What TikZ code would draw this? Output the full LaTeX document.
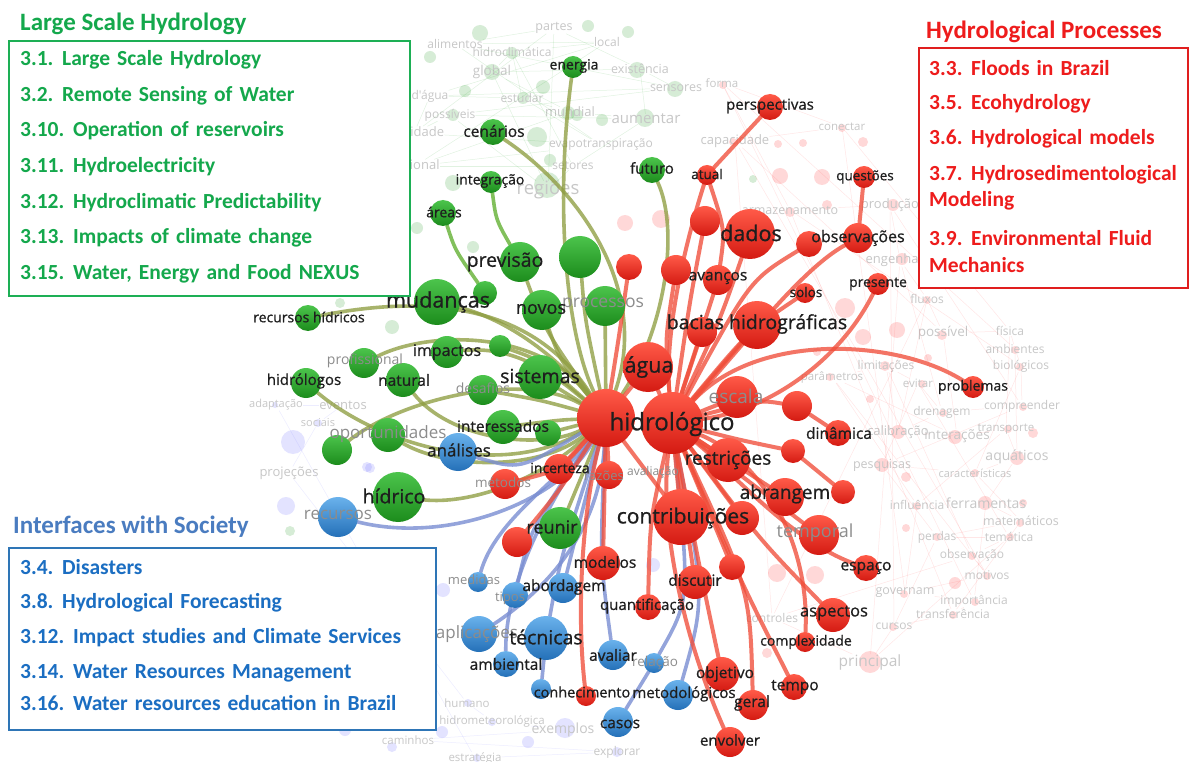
\documentclass[tikz,border=0pt]{standalone}
\usepackage{fontspec}
\setmainfont{Carlito}
\newfontfamily\labfont[FakeBold=0.8]{Open Sans}
\newfontfamily\palefont{Open Sans}
\pgfdeclarelayer{faint}
\pgfdeclarelayer{edges}
\pgfsetlayers{faint,edges,main}
\newcommand\legfont[1]{\bfseries\fontsize{#1}{#1}\selectfont\spaceskip=.33em\relax}

% sphere shades
\definecolor{rT}{HTML}{FF5A48}
\definecolor{rB}{HTML}{D41A12}
\definecolor{gT}{HTML}{4CC44C}
\definecolor{gB}{HTML}{1C8C1C}
\definecolor{bT}{HTML}{6AB2EC}
\definecolor{bB}{HTML}{2470B8}
% connector colours
\definecolor{rE}{HTML}{F04E3A}
\definecolor{oE}{HTML}{8F9E42}
\definecolor{gE}{HTML}{6DB540}
\definecolor{bE}{HTML}{7A8ED2}
% legend colours
\definecolor{gTxt}{HTML}{14A84C}
\definecolor{gBox}{HTML}{1DAF55}
\definecolor{rTxt}{HTML}{EE1C1C}
\definecolor{rBox}{HTML}{E01E1E}
\definecolor{bTxt}{HTML}{1B6EC2}
\definecolor{bTitle}{HTML}{4A7CC0}
\definecolor{bBox}{HTML}{2E75B6}
\definecolor{lblc}{HTML}{1E1E1E}

\tikzset{
  rn/.style={circle,inner sep=0pt,minimum size=#1,top color=rT,bottom color=rB,draw=none},
  gn/.style={circle,inner sep=0pt,minimum size=#1,top color=gT,bottom color=gB,draw=none},
  bn/.style={circle,inner sep=0pt,minimum size=#1,top color=bT,bottom color=bB,draw=none},
  lbl/.style={font=\labfont\fontsize{#1}{#1}\selectfont,text=lblc,inner sep=0pt},
  greylbl/.style={font=\palefont\fontsize{#1}{#1}\selectfont,text=black!45,inner sep=0pt},
  paletxt/.style={font=\palefont\fontsize{#1}{#1}\selectfont,text=black!22,inner sep=0pt},
  redge/.style={draw=rE,line width=4pt,opacity=.78,line cap=round},
  oedge/.style={draw=oE,line width=3.6pt,opacity=.78,line cap=round},
  gedge/.style={draw=gE,line width=3.6pt,opacity=.85,line cap=round},
  bedge/.style={draw=bE,line width=3.6pt,opacity=.8,line cap=round},
  fedge/.style={draw=#1,line width=.5pt,opacity=.12},
  legtxt/.style={font=\legfont{21.5},anchor=west,inner sep=0pt},
  legtitle/.style={font=\bfseries\fontsize{25}{25}\selectfont,anchor=west,inner sep=0pt},
  legbox/.style={draw=#1,line width=1.6pt,fill=white,anchor=north west,inner sep=0pt},
}

\begin{document}
\begin{tikzpicture}[x=1pt,y=-1pt]
\useasboundingbox (0,0) rectangle (1192,762);

% ---------- faint background map ----------
\begin{pgfonlayer}{faint}
\fill[white] (0,0) rectangle (1192,762);
% pale dots of the minor terms
\foreach \x/\y/\r in {480/33/8,588/26/6,628/32/6,430/57/6,465/91/6,543/87/7,492/72/8,453/115/6,602/120/6,645/118/9,637/70/8,675/89/8,523/98/6,568/113/7,512/53/6,537/137/10,547/185/13,453/183/8,417/228/6,577/115/6,550/160/6,473/247/6,340/303/5,392/327/7,753/179/4,290/531/5}
  \fill[green!55!black,opacity=.16] (\x,\y) circle (\r);
\foreach \x/\y/\r in {661/219/9,625/223/8,780/176/8,822/177/8,842/128/4,863/142/5,778/144/4,803/143/4,733/142/4,723/85/4,893/205/6,827/205/5,790/212/5,902/259/6,845/308/10,897/330/8,863/337/8,942/335/5,927/300/4,928/358/4,885/366/5,830/377/4,870/399/4,922/384/4,943/413/4,898/432/7,955/437/7,882/465/7,906/477/5,1015/350/4,1020/367/4,1023/407/4,1008/429/4,1033/433/5,1017/458/7,975/473/4,917/506/4,985/503/7,1023/503/4,1020/523/4,906/528/4,937/537/4,1010/537/4,972/556/4,987/576/4,955/583/6,904/594/4,975/602/4,953/615/4,893/627/4,870/662/11,815/575/9,777/573/9,767/653/5,817/352/4}
  \fill[red!75!white,opacity=.2] (\x,\y) circle (\r);
\foreach \x/\y/\r in {293/442/12,286/506/9,275/405/3,318/423/4,367/467/5,345/730/6,442/732/6,468/703/4,492/722/4,565/728/10,528/742/6,392/747/5,617/752/5,477/758/4,443/590/7,653/565/7,370/468/5}
  \fill[blue!60!white,opacity=.18] (\x,\y) circle (\r);

% pale words, right part of the map
\foreach [count=\i] \x/\y/\s/\w in {
  790/210/12.5/armazenamento, 890/205/13/produção, 900/260/13/engenharia,
  927/299/12/fluxos, 943/333/13.5/possível, 1010/331/12/física,
  1015/349/12/ambientes, 1021/366/12/biológicos, 1022/406/12/compreender,
  942/412/12/drenagem, 898/432/13/calibração, 957/436/13.5/interações,
  1006/429/11.5/transporte, 1017/457/14/aquáticos, 975/473/11/características,
  882/465/12.5/pesquisas, 918/383/11.5/evitar, 886/366/12/limitações,
  832/377/11.5/parâmetros, 917/505/12/influência, 986/503/14/ferramentas,
  1021/521/12.5/matemáticos, 937/537/12/perdas, 1009/537/12/temática,
  972/555/12/observação, 987/575/12/motivos, 905/593/12.5/governam,
  974/601/12/importância, 953/614/12/transferência, 894/626/12/cursos,
  870/662/15.5/principal, 772/618/12/controles, 735/141/13/capacidade,
  842/127/11.5/conectar, 722/83/11.5/forma}
  \node[paletxt=\s] (fr\i) at (\x,\y) {\w};
% pale words, upper and left part of the map
\foreach [count=\i] \x/\y/\s/\w in {
  554/28/12.5/partes, 455/44/12/alimentos, 607/42/12/local,
  512/52/12/hidroclimática, 492/72/13.5/global, 640/69/12.5/existência,
  676/88/12.5/sensores, 430/96/12/d'água, 522/98/12/estudar,
  570/112/13/mundial, 646/119/15/aumentar, 450/115/12/possíveis,
  414/133/13/qualidade, 601/145/12/evapotranspiração, 415/166/13/regional,
  573/166/12/setores, 548/190/18.5/regiões, 276/405/11/adaptação,
  343/405/13/eventos, 318/423/11/sociais, 289/473/13/projeções,
  467/703/11.5/humano, 492/721/11.5/hidrometeorológica, 563/730/14/exemplos,
  408/740/11.5/caminhos, 617/752/12/explorar, 475/758/11.5/estratégia}
  \node[paletxt=\s] (fl\i) at (\x,\y) {\w};
% thin web between the minor terms
\foreach \i [evaluate=\i as \j using {int(mod(\i,35)+1)}, evaluate=\i as \k using {int(mod(\i+6,35)+1)}] in {1,...,35}
  {\draw[fedge=red!80] (fr\i) -- (fr\j); \draw[fedge=red!80] (fr\i) -- (fr\k);}
\foreach \i [evaluate=\i as \j using {int(mod(\i,17)+1)}, evaluate=\i as \k using {int(mod(\i+4,17)+1)}] in {1,...,17}
  {\draw[fedge=green!60!black] (fl\i) -- (fl\j); \draw[fedge=green!60!black] (fl\i) -- (fl\k);}
\foreach \i [evaluate=\i as \j using {int(mod(\i-17,10)+18)}] in {18,...,27}
  \draw[fedge=blue!60] (fl\i) -- (fl\j);
\end{pgfonlayer}

% ---------- hub ----------
\node[rn=58pt] (h1) at (606,418) {};
\node[rn=62pt] (h2) at (672,423) {};

% ---------- green cluster ----------
\node[gn=22pt] (energia) at (573,67) {};
\node[gn=26pt] (cenarios) at (493,132) {};
\node[gn=22pt] (integr) at (491,182) {};
\node[gn=26pt] (areas) at (443,213) {};
\node[gn=26pt] (futuro) at (652,170) {};
\node[gn=40pt] (previsao) at (520,262) {};
\node[gn=42pt] (g580) at (580,257) {};
\node[gn=40pt] (processos) at (605,306) {};
\node[gn=40pt] (novos) at (542,310) {};
\node[gn=24pt] (g485) at (485,293) {};
\node[gn=46pt] (mudancas) at (437,302) {};
\node[gn=26pt] (rechid) at (308,318) {};
\node[gn=30pt] (g363) at (364,363) {};
\node[gn=32pt] (impactos) at (447,352) {};
\node[gn=22pt] (g500) at (500,346) {};
\node[gn=30pt] (hidrologos) at (306,383) {};
\node[gn=34pt] (natural) at (403,380) {};
\node[gn=44pt] (sistemas) at (540,377) {};
\node[gn=30pt] (g483) at (483,390) {};
\node[gn=34pt] (interess) at (503,427) {};
\node[gn=26pt] (g548) at (548,433) {};
\node[gn=34pt] (oport) at (388,435) {};
\node[gn=30pt] (g337) at (337,450) {};
\node[gn=50pt] (hidrico) at (398,497) {};
\node[gn=42pt] (reunir) at (560,528) {};

% ---------- blue cluster ----------
\node[bn=38pt] (analises) at (458,452) {};
\node[bn=40pt] (recursos) at (338,517) {};
\node[bn=20pt] (medidas) at (478,582) {};
\node[bn=26pt] (tipos) at (515,595) {};
\node[bn=30pt] (abordagem) at (563,588) {};
\node[bn=36pt] (aplic) at (479,634) {};
\node[bn=44pt] (tecnicas) at (546,638) {};
\node[bn=26pt] (ambiental) at (506,664) {};
\node[bn=30pt] (avaliar) at (613,655) {};
\node[bn=20pt] (b541) at (541,689) {};
\node[bn=20pt] (relacao) at (654,663) {};
\node[bn=30pt] (metodol) at (678,695) {};
\node[bn=30pt] (casos) at (618,722) {};

% ---------- red cluster ----------
\node[rn=26pt] (persp) at (770,107) {};
\node[rn=20pt] (atual) at (707,175) {};
\node[rn=22pt] (quest) at (864,177) {};
\node[rn=30pt] (r694) at (705,221) {};
\node[rn=50pt] (dados) at (750,234) {};
\node[rn=30pt] (obs) at (858,238) {};
\node[rn=26pt] (r809) at (809,244) {};
\node[rn=26pt] (r630) at (629,267) {};
\node[rn=30pt] (r675) at (676,270) {};
\node[rn=30pt] (avanc) at (718,280) {};
\node[rn=20pt] (solos) at (805,293) {};
\node[rn=22pt] (pres) at (878,284) {};
\node[rn=30pt] (r702) at (702,332) {};
\node[rn=48pt] (bacias) at (757,325) {};
\node[rn=50pt] (agua) at (648,367) {};
\node[rn=42pt] (escala) at (737,397) {};
\node[rn=30pt] (r797) at (797,406) {};
\node[rn=26pt] (dinam) at (838,433) {};
\node[rn=22pt] (probl) at (973,387) {};
\node[rn=44pt] (restr) at (728,460) {};
\node[rn=24pt] (r793) at (793,451) {};
\node[rn=30pt] (incert) at (559,469) {};
\node[rn=28pt] (razoes) at (609,475) {};
\node[rn=30pt] (metod) at (505,484) {};
\node[rn=38pt] (abrang) at (785,497) {};
\node[rn=24pt] (r842) at (843,492) {};
\node[rn=56pt] (contr) at (681,517) {};
\node[rn=34pt] (r742) at (742,518) {};
\node[rn=40pt] (tempor) at (819,535) {};
\node[rn=30pt] (r518) at (517,542) {};
\node[rn=34pt] (modelos) at (603,563) {};
\node[rn=34pt] (discut) at (695,582) {};
\node[rn=26pt] (r732) at (732,567) {};
\node[rn=26pt] (quant) at (648,607) {};
\node[rn=26pt] (espaco) at (866,568) {};
\node[rn=34pt] (aspect) at (833,615) {};
\node[rn=20pt] (complex) at (805,642) {};
\node[rn=34pt] (objet) at (722,674) {};
\node[rn=26pt] (tempo) at (794,687) {};
\node[rn=30pt] (geral) at (753,705) {};
\node[rn=20pt] (conhec) at (586,696) {};
\node[rn=30pt] (envolv) at (730,742) {};

% ---------- connectors ----------
\begin{pgfonlayer}{edges}
% green terms to the hub
\draw[oedge] (energia) .. controls (555,200) and (565,330) .. (h1);
\draw[oedge] (cenarios) .. controls (580,190) and (650,290) .. (h1);
\draw[gedge] (integr) .. controls (496,220) .. (previsao);
\draw[gedge] (areas) .. controls (455,250) .. (g485);
\draw[oedge] (futuro) .. controls (680,230) and (665,330) .. (h1);
\draw[oedge] (previsao) .. controls (545,330) .. (h1);
\draw[oedge] (g580) .. controls (585,320) .. (h1);
\draw[oedge] (mudancas) .. controls (510,320) and (560,360) .. (h1);
\draw[oedge] (novos) .. controls (560,360) .. (h1);
\draw[oedge] (processos) -- (h1);
\draw[oedge] (rechid) .. controls (420,296) and (530,300) .. (h1);
\draw[oedge] (g363) .. controls (430,330) and (540,330) .. (h1);
\draw[oedge] (impactos) .. controls (520,345) and (560,380) .. (h1);
\draw[oedge] (g500) .. controls (540,360) .. (h1);
\draw[oedge] (hidrologos) .. controls (380,445) and (500,480) .. (h1);
\draw[oedge] (natural) .. controls (450,440) and (540,450) .. (h1);
\draw[oedge] (sistemas) -- (h1);
\draw[oedge] (g483) .. controls (540,400) .. (h1);
\draw[oedge] (interess) .. controls (560,420) .. (h1);
\draw[oedge] (g548) -- (h1);
\draw[oedge] (oport) .. controls (450,470) and (540,470) .. (h1);
\draw[oedge] (g337) .. controls (400,400) and (520,370) .. (h1);
\draw[oedge] (hidrico) .. controls (470,505) and (540,480) .. (h1);
\draw[oedge] (reunir) -- (h1);
% blue terms to the hub
\draw[bedge] (recursos) .. controls (450,545) and (560,500) .. (h1);
\draw[bedge] (analises) .. controls (520,470) .. (h1);
\draw[bedge] (medidas) .. controls (495,520) and (560,480) .. (h1);
\draw[bedge] (tipos) .. controls (530,530) .. (h1);
\draw[bedge] (abordagem) .. controls (580,520) .. (h1);
\draw[bedge] (aplic) .. controls (560,580) and (600,520) .. (h1);
\draw[bedge] (tecnicas) .. controls (560,560) .. (h1);
\draw[bedge] (ambiental) .. controls (505,600) and (530,530) .. (h1);
\draw[bedge] (avaliar) .. controls (600,560) .. (h1);
\draw[bedge] (b541) -- (tecnicas);
\draw[bedge] (relacao) .. controls (690,600) .. (h2);
\draw[bedge] (metodol) .. controls (705,600) .. (h2);
\draw[bedge] (casos) -- (relacao);
% red terms to the hub
\draw[redge] (persp) -- (atual);
\draw[redge] (atual) .. controls (680,260) and (665,340) .. (h2);
\draw[redge] (atual) .. controls (725,230) .. (avanc);
\draw[redge] (quest) -- (obs);
\draw[redge] (obs) .. controls (800,270) and (740,350) .. (h2);
\draw[redge] (r694) .. controls (690,300) .. (h2);
\draw[redge] (dados) .. controls (720,320) .. (h2);
\draw[redge] (r809) .. controls (750,280) .. (h2);
\draw[redge] (r630) .. controls (620,330) .. (h1);
\draw[redge] (r675) .. controls (665,340) .. (h2);
\draw[redge] (avanc) -- (h2);
\draw[redge] (solos) .. controls (750,330) .. (h2);
\draw[redge] (pres) .. controls (840,360) and (770,410) .. (h2);
\draw[redge] (r702) -- (h2);
\draw[redge] (bacias) -- (h2);
\draw[redge] (agua) -- (h2);
\draw[redge] (agua) -- (h1);
\draw[redge] (escala) -- (h2);
\draw[redge] (r797) .. controls (760,400) .. (h2);
\draw[redge] (r797) -- (dinam);
\draw[redge] (probl) .. controls (900,340) and (760,330) .. (h2);
\draw[redge] (restr) -- (h2);
\draw[redge] (r793) .. controls (740,440) .. (h2);
\draw[redge] (r793) -- (r842);
\draw[redge] (abrang) -- (h2);
\draw[redge] (contr) -- (h2);
\draw[redge] (contr) -- (h1);
\draw[redge] (r742) -- (h2);
\draw[redge] (tempor) .. controls (760,490) .. (h2);
\draw[redge] (espaco) .. controls (790,540) and (730,470) .. (h2);
\draw[redge] (aspect) .. controls (760,540) .. (h2);
\draw[redge] (complex) .. controls (810,540) and (760,460) .. (h2);
\draw[redge] (objet) .. controls (700,570) .. (h2);
\draw[redge] (tempo) .. controls (740,580) .. (h2);
\draw[redge] (geral) .. controls (750,590) .. (h2);
\draw[redge] (envolv) .. controls (680,630) and (660,520) .. (h2);
\draw[redge] (discut) -- (h2);
\draw[redge] (r732) -- (h2);
\draw[redge] (modelos) -- (h1);
\draw[redge] (quant) .. controls (650,520) .. (h2);
\draw[redge] (conhec) .. controls (575,600) and (585,500) .. (h1);
\draw[redge] (incert) -- (h1);
\draw[redge] (razoes) -- (h1);
\draw[redge] (metod) .. controls (560,470) .. (h1);
\draw[redge] (r518) .. controls (560,490) .. (h1);
\end{pgfonlayer}

% ---------- grey labels of secondary terms ----------
\foreach [count=\i] \x/\y/\s/\w in {
  603/305/17.5/processos, 736/396/19/escala, 815/533/18/temporal,
  338/515/17/recursos, 477/634/17/aplicações, 388/434/17/oportunidades,
  483/388/14/desafios, 365/361/14/profissional, 503/482/13.5/métodos,
  604/476/13/razões, 653/472/12/avaliação, 474/580/13/medidas,
  510/598/13/tipos, 655/663/13.5/relação}
  \node[greylbl=\s] (fn\i) at (\x,\y) {\w};

% ---------- labels ----------
\node[lbl=24] (t-hidro) at (672,424) {hidrológico};
\node[lbl=21.5] (t-agua) at (649,367) {água};
\node[lbl=19.5] (t-bacias) at (757,324) {bacias hidrográficas};
\node[lbl=21.5] (t-dados) at (751,233) {dados};
\node[lbl=21] (t-contr) at (683,518) {contribuições};
\node[lbl=19] (t-restr) at (728,460) {restrições};
\node[lbl=19] (t-abrang) at (785,494) {abrangem};
\node[lbl=21.5] (t-mud) at (438,302) {mudanças};
\node[lbl=18] (t-novos) at (541,309) {novos};
\node[lbl=19.5] (t-prev) at (505,262) {previsão};
\node[lbl=19.5] (t-sist) at (540,376) {sistemas};
\node[lbl=19.5] (t-hidrico) at (394,496) {hídrico};
\node[lbl=18] (t-reunir) at (552,527) {reunir};
\node[lbl=19.5] (t-tec) at (546,637) {técnicas};
\node[lbl=17] (t-anal) at (459,450) {análises};
\node[lbl=16] (t-imp) at (447,352) {impactos};
\node[lbl=15.5] (t-nat) at (404,380) {natural};
\node[lbl=15] (t-hidrol) at (304,381) {hidrólogos};
\node[lbl=14] (t-rechid) at (309,317) {recursos hídricos};
\node[lbl=15.5] (t-inter) at (503,426) {interessados};
\node[lbl=14] (t-incert) at (560,468) {incerteza};
\node[lbl=14] (t-energia) at (574,66) {energia};
\node[lbl=15.5] (t-cen) at (494,131) {cenários};
\node[lbl=14] (t-integr) at (490,181) {integração};
\node[lbl=14] (t-areas) at (444,212) {áreas};
\node[lbl=15] (t-futuro) at (652,168) {futuro};
\node[lbl=15] (t-persp) at (770,106) {perspectivas};
\node[lbl=13.5] (t-atual) at (707,174) {atual};
\node[lbl=13.5] (t-quest) at (865,177) {questões};
\node[lbl=16] (t-obs) at (858,238) {observações};
\node[lbl=15.5] (t-avanc) at (718,278) {avanços};
\node[lbl=13.5] (t-solos) at (806,292) {solos};
\node[lbl=14] (t-pres) at (878,284) {presente};
\node[lbl=15.5] (t-dinam) at (839,433) {dinâmica};
\node[lbl=14] (t-probl) at (973,387) {problemas};
\node[lbl=15.5] (t-espaco) at (866,568) {espaço};
\node[lbl=16.5] (t-aspect) at (834,613) {aspectos};
\node[lbl=14] (t-complex) at (806,642) {complexidade};
\node[lbl=15.5] (t-objet) at (725,674) {objetivo};
\node[lbl=15.5] (t-tempo) at (795,687) {tempo};
\node[lbl=15.5] (t-geral) at (752,703) {geral};
\node[lbl=15] (t-envolv) at (730,740) {envolver};
\node[lbl=15.5] (t-modelos) at (605,562) {modelos};
\node[lbl=15.5] (t-discut) at (695,580) {discutir};
\node[lbl=15] (t-quant) at (647,606) {quantificação};
\node[lbl=15.5] (t-abord) at (564,587) {abordagem};
\node[lbl=15.5] (t-amb) at (506,664) {ambiental};
\node[lbl=15.5] (t-aval) at (613,655) {avaliar};
\node[lbl=14.5] (t-conhec) at (582,692) {conhecimento};
\node[lbl=15] (t-metodol) at (684,694) {metodológicos};
\node[lbl=15.5] (t-casos) at (620,724) {casos};

% ---------- legend: Large Scale Hydrology ----------
\node[legbox=gBox,minimum width=401pt,minimum height=255pt] (gbox) at (8,40) {};
\node[legtitle,text=gTxt] (gtitle) at (20,24) {Large Scale Hydrology};
\node[legtxt,text=gTxt] (g1) at (20,60) {3.1. Large Scale Hydrology};
\node[legtxt,text=gTxt] (g2) at (20,96) {3.2. Remote Sensing of Water};
\node[legtxt,text=gTxt] (g3) at (20,131) {3.10. Operation of reservoirs};
\node[legtxt,text=gTxt] (g4) at (20,167) {3.11. Hydroelectricity};
\node[legtxt,text=gTxt] (g5) at (20,203) {3.12. Hydroclimatic Predictability};
\node[legtxt,text=gTxt] (g6) at (20,238) {3.13. Impacts of climate change};
\node[legtxt,text=gTxt] (g7) at (20,274) {3.15. Water, Energy and Food NEXUS};

% ---------- legend: Hydrological Processes ----------
\node[legbox=rBox,minimum width=269pt,minimum height=240pt] (rbox) at (918,47) {};
\node[legtitle,text=rTxt] (rtitle) at (926,32) {Hydrological Processes};
\node[legtxt,text=rTxt] (r1) at (929,68) {3.3. Floods in Brazil};
\node[legtxt,text=rTxt] (r2) at (929,104) {3.5. Ecohydrology};
\node[legtxt,text=rTxt] (r3) at (929,139) {3.6. Hydrological models};
\node[legtxt,text=rTxt] (r4) at (929,175) {3.7. Hydrosedimentological};
\node[legtxt,text=rTxt] (r5) at (929,201) {Modeling};
\node[legtxt,text=rTxt] (r6) at (929,238) {3.9. Environmental Fluid};
\node[legtxt,text=rTxt] (r7) at (929,265) {Mechanics};

% ---------- legend: Interfaces with Society ----------
\node[legbox=bBox,minimum width=427pt,minimum height=182pt] (bbox) at (8,547) {};
\node[legtitle,text=bTitle] (btitle) at (13,527) {Interfaces with Society};
\node[legtxt,text=bTxt] (b1) at (20,567) {3.4. Disasters};
\node[legtxt,text=bTxt] (b2) at (20,603) {3.8. Hydrological Forecasting};
\node[legtxt,text=bTxt] (b3) at (20,638) {3.12. Impact studies and Climate Services};
\node[legtxt,text=bTxt] (b4) at (20,673) {3.14. Water Resources Management};
\node[legtxt,text=bTxt] (b5) at (20,703) {3.16. Water resources education in Brazil};
\end{tikzpicture}
\end{document}
